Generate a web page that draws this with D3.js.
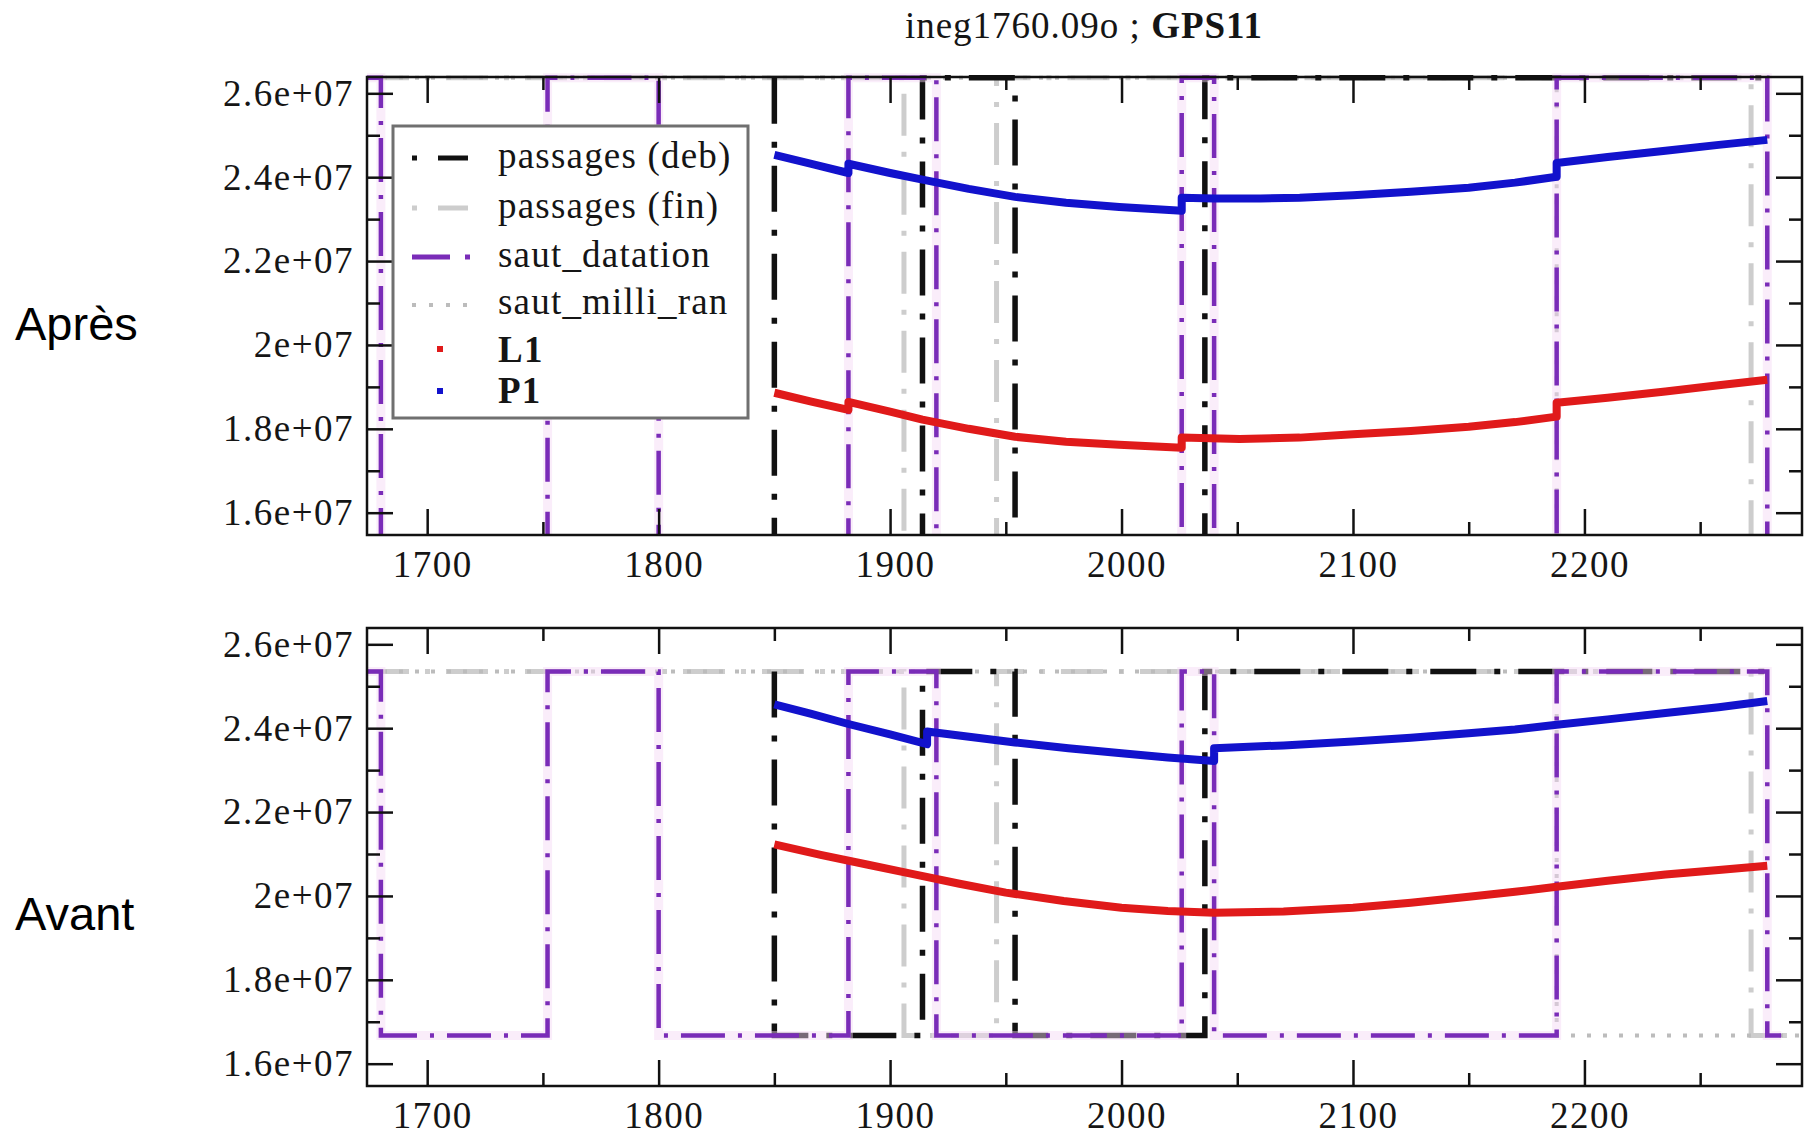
<!DOCTYPE html>
<html>
<head>
<meta charset="utf-8">
<script src="https://cdn.jsdelivr.net/npm/d3@7"></script>
<style>
  body { margin: 0; background: #fff; }
  svg text { font-family: "Liberation Serif", "Times New Roman", serif; fill: #151515; }
</style>
</head>
<body>
<div id="chart"></div>
<script>
// axis values
const xDomain = [1674, 2294];
const yDomain = [1.5468e7, 2.6389e7];
const xTickValues = [1700, 1800, 1900, 2000, 2100, 2200];
const xMinorValues = [1750, 1850, 1950, 2050, 2150, 2250];
const yTickValues = [1.6e7, 1.8e7, 2.0e7, 2.2e7, 2.4e7, 2.6e7];
const yTickLabels = ['1.6e+07', '1.8e+07', '2e+07', '2.2e+07', '2.4e+07', '2.6e+07'];
const yMinorValues = [1.7e7, 1.9e7, 2.1e7, 2.3e7, 2.5e7];

// event steps (switch epochs)
const passagesDebSwitches = [1850, 1914, 1954, 2036];
const passagesFinSwitches = [1906, 1946, 2272];
const sautDatationSwitches = [1680, 1752, 1800, 1882, 1920, 2026, 2040, 2188, 2279];
const sautMilliRanSwitches = [2188];

// "Après" series
const apresL1 = [
  [1850, 1.886e7], [1866, 1.865e7], [1882, 1.845e7],
  [1882, 1.864e7], [1900, 1.841e7], [1914, 1.822e7], [1934, 1.800e7], [1954, 1.781e7], [1976, 1.769e7], [1999, 1.762e7], [2026, 1.755e7],
  [2026, 1.779e7], [2051, 1.776e7], [2077, 1.779e7], [2100, 1.787e7], [2125, 1.795e7], [2150, 1.805e7], [2170, 1.816e7], [2188, 1.829e7],
  [2188, 1.862e7], [2210, 1.874e7], [2235, 1.889e7], [2258, 1.904e7], [2279, 1.917e7]
];
const apresP1 = [
  [1850, 2.453e7], [1866, 2.432e7], [1882, 2.410e7],
  [1882, 2.432e7], [1900, 2.410e7], [1914, 2.394e7], [1934, 2.372e7], [1954, 2.353e7], [1976, 2.339e7], [1999, 2.329e7], [2026, 2.320e7],
  [2026, 2.351e7], [2040, 2.349e7], [2060, 2.349e7], [2077, 2.351e7], [2100, 2.357e7], [2125, 2.365e7], [2150, 2.375e7], [2170, 2.387e7], [2188, 2.401e7],
  [2188, 2.434e7], [2210, 2.448e7], [2235, 2.463e7], [2258, 2.477e7], [2279, 2.489e7]
];

// "Avant" series
const avantL1 = [
  [1850, 2.123e7], [1870, 2.098e7], [1890, 2.075e7], [1910, 2.052e7], [1930, 2.029e7], [1950, 2.008e7], [1975, 1.988e7],
  [2000, 1.972e7], [2020, 1.964e7], [2040, 1.960e7], [2070, 1.963e7], [2100, 1.972e7], [2125, 1.984e7], [2150, 1.998e7],
  [2170, 2.010e7], [2188, 2.022e7], [2210, 2.036e7], [2235, 2.051e7], [2258, 2.062e7], [2279, 2.072e7]
];
const avantP1 = [
  [1850, 2.457e7], [1866, 2.434e7], [1882, 2.410e7], [1900, 2.385e7], [1916, 2.362e7],
  [1916, 2.392e7], [1935, 2.379e7], [1954, 2.366e7], [1977, 2.352e7], [2000, 2.340e7], [2020, 2.330e7], [2040, 2.322e7],
  [2040, 2.352e7], [2070, 2.359e7], [2100, 2.368e7], [2125, 2.377e7], [2150, 2.388e7], [2170, 2.397e7], [2188, 2.408e7],
  [2210, 2.421e7], [2235, 2.436e7], [2258, 2.450e7], [2279, 2.465e7]
];

const legendLabels = ['passages (deb)', 'passages (fin)', 'saut_datation', 'saut_milli_ran', 'L1', 'P1'];

const colors = { deb: '#111', fin: '#cdcdcd', datation: '#7a2cb8', milli: '#bcbcbc', l1: '#e01a1a', p1: '#1212cc' };

const stepSeries = [
  { key: 'fin', switches: passagesFinSwitches, from: 1674, to: 2294, high: true, dash: '42,16,5,16', width: 5 },
  { key: 'milli', switches: sautMilliRanSwitches, from: 1674, to: 2294, high: true, dash: '4,12', width: 4 },
  { key: 'deb', switches: passagesDebSwitches, from: 1850, to: 2279, high: true, dash: '46,18,6,18', width: 5.5 },
  { key: 'datation', switches: sautDatationSwitches, from: 1674, to: 2285, high: true, dash: '44,13,4,13', width: 4.5 }
];

const panels = [
  { top: 77, bottom: 535, l1: apresL1, p1: apresP1, hi: 2.637e7, lo: 1.40e7, label: 'Après', labelY: 340, legend: true },
  { top: 628, bottom: 1086, l1: avantL1, p1: avantP1, hi: 2.535e7, lo: 1.667e7, label: 'Avant', labelY: 930, legend: false }
];

const width = 1804, height = 1135;
const svg = d3.select('#chart').append('svg').attr('width', width).attr('height', height);

const x = d3.scaleLinear().domain(xDomain).range([367, 1802]);

function stepPoints(s, hi, lo) {
  let level = s.high;
  const pts = [[s.from, level ? hi : lo]];
  s.switches.forEach(t => {
    pts.push([t, level ? hi : lo]);
    level = !level;
    pts.push([t, level ? hi : lo]);
  });
  pts.push([s.to, level ? hi : lo]);
  return pts;
}

panels.forEach((p, i) => {
  const y = d3.scaleLinear().domain(yDomain).range([p.bottom, p.top]);
  const g = svg.append('g');

  g.append('clipPath').attr('id', 'clip' + i)
    .append('rect').attr('x', 367).attr('y', p.top - 4).attr('width', 1435).attr('height', p.bottom - p.top + 4);

  const plot = g.append('g').attr('clip-path', `url(#clip${i})`);
  const line = d3.line().x(d => x(d[0])).y(d => y(d[1]));

  stepSeries.forEach(s => {
    const pts = stepPoints(s, p.hi, p.lo);
    if (s.key === 'datation') {
      plot.append('path').attr('d', line(pts)).attr('fill', 'none')
        .attr('stroke', '#f4d8f4').attr('stroke-width', 9).attr('opacity', 0.45);
    }
    plot.append('path').attr('d', line(pts)).attr('fill', 'none')
      .attr('stroke', colors[s.key]).attr('stroke-width', s.width)
      .attr('stroke-dasharray', s.dash);
  });

  plot.append('path').attr('d', line(p.l1)).attr('fill', 'none')
    .attr('stroke', colors.l1).attr('stroke-width', 8).attr('stroke-linejoin', 'round');
  plot.append('path').attr('d', line(p.p1)).attr('fill', 'none')
    .attr('stroke', colors.p1).attr('stroke-width', 8).attr('stroke-linejoin', 'round');

  // axes, ticks inward on all sides
  const axes = g.append('g').attr('class', 'axes');
  axes.append('g').attr('class', 'xlab').attr('transform', `translate(0,${p.bottom})`)
    .call(d3.axisBottom(x).tickValues(xTickValues).tickSizeInner(-26).tickSizeOuter(0).tickPadding(16).tickFormat(d3.format('d')));
  axes.append('g').attr('transform', `translate(0,${p.bottom})`)
    .call(d3.axisBottom(x).tickValues(xMinorValues).tickSizeInner(-13).tickSizeOuter(0).tickFormat(''));
  axes.append('g').attr('transform', `translate(0,${p.top})`)
    .call(d3.axisTop(x).tickValues(xTickValues).tickSizeInner(-26).tickSizeOuter(0).tickFormat(''));
  axes.append('g').attr('transform', `translate(0,${p.top})`)
    .call(d3.axisTop(x).tickValues(xMinorValues).tickSizeInner(-13).tickSizeOuter(0).tickFormat(''));
  axes.append('g').attr('transform', 'translate(367,0)')
    .call(d3.axisLeft(y).tickValues(yTickValues).tickSizeInner(-26).tickSizeOuter(0).tickPadding(13).tickFormat((d, k) => yTickLabels[k]));
  axes.append('g').attr('transform', 'translate(367,0)')
    .call(d3.axisLeft(y).tickValues(yMinorValues).tickSizeInner(-13).tickSizeOuter(0).tickFormat(''));
  axes.append('g').attr('transform', 'translate(1802,0)')
    .call(d3.axisRight(y).tickValues(yTickValues).tickSizeInner(-26).tickSizeOuter(0).tickFormat(''));
  axes.append('g').attr('transform', 'translate(1802,0)')
    .call(d3.axisRight(y).tickValues(yMinorValues).tickSizeInner(-13).tickSizeOuter(0).tickFormat(''));

  axes.selectAll('.domain').remove();
  axes.selectAll('line').attr('stroke', '#111').attr('stroke-width', 2.5);
  axes.selectAll('text').attr('font-size', 37).attr('letter-spacing', 1.5)
    .attr('font-family', '"Liberation Serif", "Times New Roman", serif').attr('fill', '#151515');
  axes.selectAll('.xlab text').attr('dx', 5);

  g.append('rect').attr('x', 367).attr('y', p.top).attr('width', 1435).attr('height', p.bottom - p.top)
    .attr('fill', 'none').attr('stroke', '#111').attr('stroke-width', 2.5);

  svg.append('text').attr('x', 15).attr('y', p.labelY)
    .style('font-family', '"Liberation Sans", Arial, sans-serif').style('fill', '#000')
    .attr('font-size', 47).text(p.label);

  if (p.legend) {
    const lg = g.append('g');
    lg.append('rect').attr('x', 393).attr('y', 126).attr('width', 355).attr('height', 292)
      .attr('fill', '#fff').attr('stroke', '#707070').attr('stroke-width', 3);
    const rowY = [158, 208, 257, 305, 349, 391];
    const baseY = [168, 218, 267, 314, 362, 403];
    legendLabels.forEach((name, k) => {
      lg.append('text').attr('x', 498).attr('y', baseY[k]).attr('font-size', 37)
        .attr('letter-spacing', 1.2).attr('font-weight', k >= 4 ? 'bold' : 'normal').text(name);
    });
    // symbols
    lg.append('rect').attr('x', 412).attr('y', rowY[0] - 2.5).attr('width', 5).attr('height', 5).attr('fill', colors.deb);
    lg.append('line').attr('x1', 438).attr('x2', 468).attr('y1', rowY[0]).attr('y2', rowY[0]).attr('stroke', colors.deb).attr('stroke-width', 5);
    lg.append('rect').attr('x', 412).attr('y', rowY[1] - 2.5).attr('width', 5).attr('height', 5).attr('fill', colors.fin);
    lg.append('line').attr('x1', 438).attr('x2', 468).attr('y1', rowY[1]).attr('y2', rowY[1]).attr('stroke', colors.fin).attr('stroke-width', 5);
    lg.append('line').attr('x1', 412).attr('x2', 450).attr('y1', rowY[2]).attr('y2', rowY[2]).attr('stroke', colors.datation).attr('stroke-width', 5);
    lg.append('rect').attr('x', 465).attr('y', rowY[2] - 2.5).attr('width', 5).attr('height', 5).attr('fill', colors.datation);
    lg.append('line').attr('x1', 412).attr('x2', 472).attr('y1', rowY[3]).attr('y2', rowY[3])
      .attr('stroke', colors.milli).attr('stroke-width', 4).attr('stroke-dasharray', '4,13');
    lg.append('rect').attr('x', 437).attr('y', rowY[4] - 3).attr('width', 6).attr('height', 6).attr('fill', colors.l1);
    lg.append('rect').attr('x', 437).attr('y', rowY[5] - 3).attr('width', 6).attr('height', 6).attr('fill', colors.p1);
  }
});

// title
const title = svg.append('text').attr('x', 1084).attr('y', 38).attr('text-anchor', 'middle')
  .attr('font-size', 37).attr('letter-spacing', 1);
title.append('tspan').text('ineg1760.09o ; ');
title.append('tspan').attr('font-weight', 'bold').text('GPS11');
</script>
</body>
</html>
